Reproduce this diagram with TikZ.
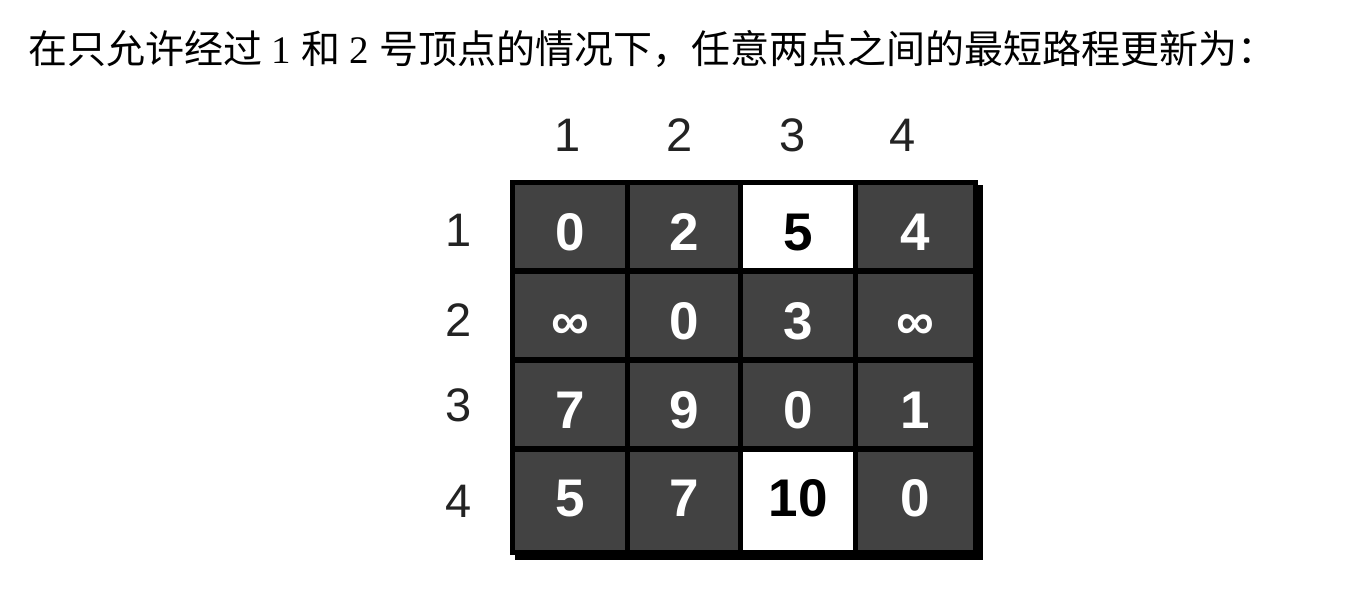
\documentclass[tikz,border=0pt]{standalone}
\usepackage{fontspec}
\setmainfont{Liberation Sans}
\newfontfamily\cjk{Noto Sans CJK SC}
\newfontfamily\romandigits{Liberation Serif}
\usetikzlibrary{positioning, matrix, shadows}
\definecolor{cellgray}{RGB}{66,66,66}
\definecolor{labelink}{RGB}{35,35,35}
\tikzset{%
	every cell/.style={
		fill=cellgray,
		text=white,
		inner sep=0pt,
		minimum height=83pt,
		text height=48pt,
		text depth=0pt,
		font=\fontsize{53pt}{53pt}\selectfont\bfseries
	},
	cell open/.style={
		fill=white,
		text=black
	},
	index label/.style={
		inner sep=0pt,
		text=labelink,
		font=\fontsize{47pt}{47pt}\selectfont
	},
}
\begin{document}
\begin{tikzpicture}[x=1pt, y=-1pt]
	\useasboundingbox[fill=white] (0,0) rectangle (1352,593);
	
	% Caption line
	\node[anchor=base west, inner sep=0pt, font=\fontsize{39pt}{39pt}\selectfont\cjk] (caption) at (28,64)
	{在只允许经过{\romandigits\ 1 }和{\romandigits\ 2 }号顶点的情况下，任意两点之间的最短路程更新为：};
	
	% Distance matrix
	\matrix (dist) [
		matrix of nodes,
		anchor=north west,
		fill=black,
		inner sep=5pt,
		column sep=5pt,
		row sep=6pt,
		drop shadow={shadow xshift=5pt, shadow yshift=-5pt, opacity=1, fill=black},
		nodes={every cell},
		column 1/.style={nodes={minimum width=110pt}},
		column 2/.style={nodes={minimum width=108pt}},
		column 3/.style={nodes={minimum width=110pt}},
		column 4/.style={nodes={minimum width=115pt}},
		row 4/.style={nodes={minimum height=98pt, text height=31pt}}
	] at (510,180) {
		0 & 2 & |[cell open]| 5 & 4 \\
		∞ & 0 & 3 & ∞ \\
		7 & 9 & 0 & 1 \\
		5 & 7 & |[cell open]| 10 & 0 \\
	};
	
	% Column and row indices
	\foreach \i/\x in {1/568, 2/680, 3/793, 4/903}
		\node[index label] (col\i) at (\x,135) {\i};
	\foreach \i/\y in {1/230, 2/320, 3/405, 4/501}
		\node[index label] (row\i) at (459,\y) {\i};
\end{tikzpicture}
\end{document}
